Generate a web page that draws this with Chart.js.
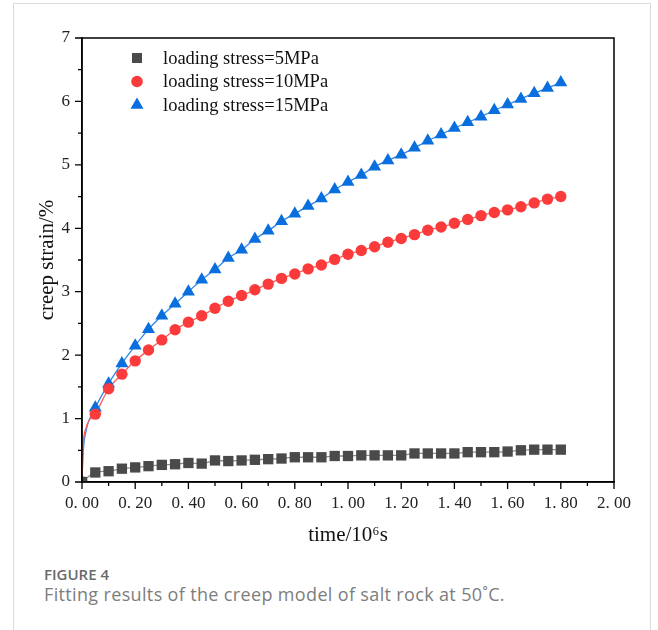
<!DOCTYPE html>
<html>
<head>
<meta charset="utf-8">
<script src="https://cdn.jsdelivr.net/npm/chart.js@4.4.1/dist/chart.umd.min.js"></script>
<style>
  html, body { margin: 0; padding: 0; background: #fff; }
  body { width: 658px; height: 630px; position: relative; overflow: hidden; }
  #card { position: absolute; left: 13px; top: 3px; width: 638px; height: 700px;
          border: 1px solid #dcdcdc; border-bottom: none; box-sizing: border-box; }
  #wrap { position: absolute; left: 0; top: 0; width: 658px; height: 560px; }
  #fig { position: absolute; left: 44px; top: 564px; font-family: "Open Sans", "Noto Sans", sans-serif;
         font-size: 15px; font-weight: 600; color: #6a6a6a; letter-spacing: 0; }
  #cap { position: absolute; left: 44px; top: 582px; font-family: "Open Sans", "Noto Sans", sans-serif;
         font-size: 18px; letter-spacing: 0.35px; color: #7d7d7d; white-space: nowrap; }
</style>
</head>
<body>
<div id="card"></div>
<div id="wrap"><canvas id="c" width="658" height="560"></canvas></div>
<div id="fig">FIGURE 4</div>
<div id="cap">Fitting results of the creep model of salt rock at 50˚C.</div>
<script>
// ---- data (time in 10^6 s, creep strain in %) ----
const timeValues = [0, 0.05, 0.10, 0.15, 0.20, 0.25, 0.30, 0.35, 0.40, 0.45, 0.50, 0.55, 0.60, 0.65, 0.70,
  0.75, 0.80, 0.85, 0.90, 0.95, 1.00, 1.05, 1.10, 1.15, 1.20, 1.25, 1.30, 1.35, 1.40, 1.45, 1.50, 1.55,
  1.60, 1.65, 1.70, 1.75, 1.80];
const strain5MPa = [0, 0.15, 0.17, 0.21, 0.23, 0.25, 0.27, 0.28, 0.30, 0.29, 0.34, 0.33, 0.34, 0.35, 0.36,
  0.37, 0.39, 0.39, 0.39, 0.41, 0.41, 0.42, 0.42, 0.42, 0.42, 0.45, 0.45, 0.45, 0.45, 0.47, 0.47, 0.47,
  0.48, 0.50, 0.51, 0.51, 0.51];
const strain10MPa = [0, 1.07, 1.47, 1.70, 1.91, 2.08, 2.24, 2.40, 2.52, 2.62, 2.74, 2.85, 2.94, 3.03, 3.12,
  3.21, 3.28, 3.36, 3.42, 3.51, 3.59, 3.65, 3.71, 3.78, 3.84, 3.90, 3.97, 4.02, 4.08, 4.14, 4.20, 4.25,
  4.29, 4.34, 4.40, 4.46, 4.50];
const strain15MPa = [0, 1.17, 1.55, 1.87, 2.15, 2.41, 2.62, 2.81, 3.00, 3.19, 3.35, 3.53, 3.66, 3.83, 3.96,
  4.11, 4.23, 4.35, 4.47, 4.61, 4.73, 4.84, 4.97, 5.07, 5.16, 5.27, 5.38, 5.48, 5.58, 5.67, 5.76, 5.86,
  5.95, 6.04, 6.13, 6.21, 6.30];
// fitted curve: steep start read near the origin
const fitStartTime = [0.004, 0.015];
const fitStart10MPa = [0.55, 0.85];
const fitStart15MPa = [0.45, 0.80];
const seriesLabels = ['loading stress=5MPa', 'loading stress=10MPa', 'loading stress=15MPa'];
const xTickValues = [0, 0.2, 0.4, 0.6, 0.8, 1.0, 1.2, 1.4, 1.6, 1.8, 2.0];
const yTickValues = [0, 1, 2, 3, 4, 5, 6, 7];

const pts = (xs, ys) => xs.map((x, i) => ({ x: x, y: ys[i] }));
const fitPts = (ys, startYs) => {
  const p = pts(timeValues, ys);
  if (!startYs) return p;
  const s = pts(fitStartTime, startYs);
  return [p[0]].concat(s, p.slice(1));
};

const colors = {
  s5: '#4a4a4a', s10: '#fb3b3b', s15: '#0a6fde',
  l5: '#8c8c8c', l10: '#ff5a5a', l15: '#2f86e6'
};

const markerSets = [
  { label: seriesLabels[0], data: pts(timeValues, strain5MPa), pointStyle: 'rect', pointRadius: 7.3, color: colors.s5 },
  { label: seriesLabels[1], data: pts(timeValues, strain10MPa), pointStyle: 'circle', pointRadius: 5.7, color: colors.s10 },
  { label: seriesLabels[2], data: pts(timeValues, strain15MPa), pointStyle: 'triangle', pointRadius: 7.5, color: colors.s15 }
];

const datasets = [];
markerSets.forEach(m => datasets.push({
  label: m.label, data: m.data, showLine: false, pointStyle: m.pointStyle, pointRadius: m.pointRadius,
  pointBackgroundColor: m.color, pointBorderColor: m.color, pointBorderWidth: 0, order: 0
}));
[[strain5MPa, null, colors.l5], [strain10MPa, fitStart10MPa, colors.l10], [strain15MPa, fitStart15MPa, colors.l15]]
  .forEach((f, i) => datasets.push({
    label: 'fit ' + seriesLabels[i], data: fitPts(f[0], f[1]), showLine: true, pointRadius: 0,
    borderColor: f[2], borderWidth: 1.3, cubicInterpolationMode: 'monotone', fill: false, order: 1
  }));

const serif = '"Liberation Serif", "Times New Roman", serif';

const framePlugin = {
  id: 'frame',
  afterDraw(chart) {
    const { ctx, chartArea: a, scales } = chart;
    const xs = scales.x, ys = scales.y;
    ctx.save();
    ctx.strokeStyle = '#000';
    ctx.lineWidth = 1.5;
    ctx.strokeRect(a.left, a.top, a.right - a.left, a.bottom - a.top);
    ctx.lineWidth = 1.3;
    ctx.beginPath();
    for (let i = 0; i <= 20; i++) {
      const v = i / 10;
      const px = xs.getPixelForValue(v);
      const len = (i % 2 === 0) ? 7 : 4;
      ctx.moveTo(px, a.bottom);
      ctx.lineTo(px, a.bottom + len);
    }
    for (let i = 0; i <= 14; i++) {
      const v = i / 2;
      const py = ys.getPixelForValue(v);
      const len = (i % 2 === 0) ? 7 : 4;
      ctx.moveTo(a.left, py);
      ctx.lineTo(a.left - len, py);
    }
    ctx.stroke();

    // legend
    const lx = 137, tx = 163, rows = [58, 81.5, 105];
    ctx.font = '18.5px ' + serif;
    ctx.textBaseline = 'middle';
    ctx.textAlign = 'left';
    markerSets.forEach((m, i) => {
      const y = rows[i];
      ctx.fillStyle = m.color;
      ctx.beginPath();
      if (m.pointStyle === 'rect') {
        ctx.rect(lx - 5, y - 5, 10, 10);
      } else if (m.pointStyle === 'circle') {
        ctx.arc(lx, y, 5.8, 0, Math.PI * 2);
      } else {
        ctx.moveTo(lx, y - 7.5);
        ctx.lineTo(lx + 6.5, y + 3.75);
        ctx.lineTo(lx - 6.5, y + 3.75);
        ctx.closePath();
      }
      ctx.fill();
      ctx.fillStyle = '#111';
      ctx.fillText(m.label, tx, y + 1);
    });
    ctx.restore();
  }
};

new Chart(document.getElementById('c'), {
  type: 'scatter',
  data: { datasets: datasets },
  options: {
    responsive: false,
    animation: false,
    devicePixelRatio: 1,
    layout: { padding: { left: 0, top: 38, right: 44, bottom: 0 } },
    plugins: { legend: { display: false }, tooltip: { enabled: false } },
    scales: {
      x: {
        type: 'linear', min: 0, max: 2,
        afterFit: s => { s.height = 78; },
        afterBuildTicks: s => { s.ticks = xTickValues.map(v => ({ value: v })); },
        grid: { display: false, drawTicks: false },
        border: { display: true, color: '#000', width: 1.5 },
        ticks: {
          padding: 11, color: '#222', maxRotation: 0, autoSkip: false,
          font: { family: serif, size: 17 },
          callback: v => Number(v).toFixed(2).replace('.', '. ')
        },
        title: { display: true, text: 'time/10⁶s', color: '#111',
                 font: { family: serif, size: 21 }, padding: { top: 0, bottom: 12 } }
      },
      y: {
        type: 'linear', min: 0, max: 7,
        afterFit: s => { s.width = 82; },
        afterBuildTicks: s => { s.ticks = yTickValues.map(v => ({ value: v })); },
        grid: { display: false, drawTicks: false },
        border: { display: true, color: '#000', width: 1.5 },
        ticks: {
          padding: 12, color: '#222', autoSkip: false,
          font: { family: serif, size: 17 },
          callback: v => String(v)
        },
        title: { display: true, text: 'creep strain/%', color: '#111',
                 font: { family: serif, size: 21 }, padding: { top: 35, bottom: 0 } }
      }
    }
  },
  plugins: [framePlugin]
});
</script>
</body>
</html>
